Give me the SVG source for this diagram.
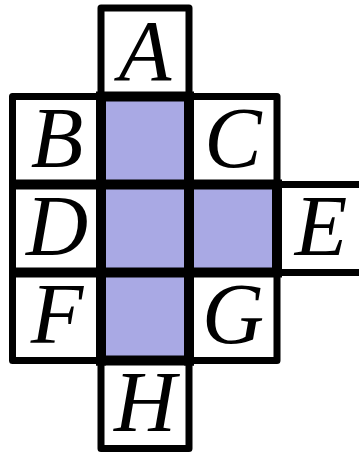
<svg xmlns="http://www.w3.org/2000/svg" width="359" height="454" viewBox="0 0 359 454">
<style>
.cell{fill:#ffffff;stroke:#000;stroke-width:7;stroke-linejoin:round}
.sh{fill:#a9a9e4;stroke:#000;stroke-width:7;stroke-linejoin:round}
.inner{stroke:#000;stroke-width:10;stroke-linecap:butt;fill:none}
.lbl{font-family:"Liberation Serif","DejaVu Serif",serif;font-style:italic;font-size:86px;fill:#000;text-anchor:middle}
</style>
<rect width="359" height="454" fill="#ffffff"/>
<g id="shaded">
<rect class="sh" x="101" y="96.5" width="88" height="88"/>
<rect class="sh" x="101" y="184.5" width="88" height="88"/>
<rect class="sh" x="189" y="184.5" width="88" height="88"/>
<rect class="sh" x="101" y="272.5" width="88" height="88"/>
</g>
<g id="A"><rect class="cell" x="101" y="8" width="88" height="88.5"/><text class="lbl" x="145" y="80">A</text></g>
<g id="B"><rect class="cell" x="12.5" y="96.5" width="88.5" height="88"/><text class="lbl" x="57" y="167">B</text></g>
<g id="C"><rect class="cell" x="189" y="96.5" width="88" height="88"/><text class="lbl" x="233" y="167">C</text></g>
<g id="D"><rect class="cell" x="12.5" y="184.5" width="88.5" height="88"/><text class="lbl" x="57" y="255">D</text></g>
<g id="E"><rect class="cell" x="277" y="184.5" width="90" height="88"/><text class="lbl" x="321" y="255">E</text></g>
<g id="F"><rect class="cell" x="12.5" y="272.5" width="88.5" height="88"/><text class="lbl" x="57" y="343">F</text></g>
<g id="G"><rect class="cell" x="189" y="272.5" width="88" height="88"/><text class="lbl" x="233" y="343">G</text></g>
<g id="H"><rect class="cell" x="101" y="360.5" width="88" height="88"/><text class="lbl" x="145" y="431">H</text></g>
<g id="connectors">
<line class="inner" x1="96" y1="96.5" x2="194" y2="96.5"/>
<line class="inner" x1="96" y1="360.5" x2="194" y2="360.5"/>
<line class="inner" x1="12.5" y1="184.5" x2="282" y2="184.5"/>
<line class="inner" x1="12.5" y1="272.5" x2="282" y2="272.5"/>
<line class="inner" x1="101" y1="96.5" x2="101" y2="365.5"/>
<line class="inner" x1="189" y1="96.5" x2="189" y2="365.5"/>
<line class="inner" x1="277" y1="184.5" x2="277" y2="272.5"/>
</g>
</svg>
